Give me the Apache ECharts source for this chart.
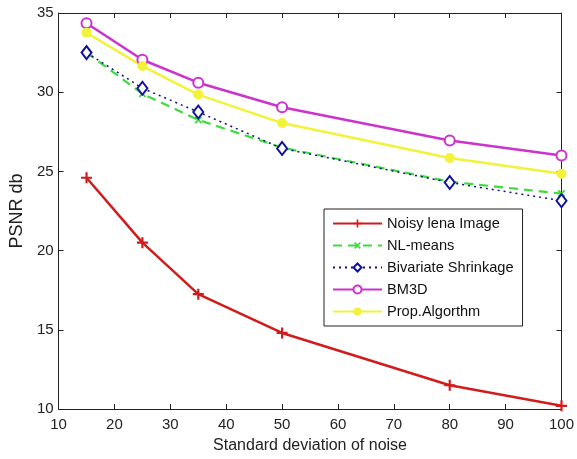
<!DOCTYPE html>
<html>
<head>
<meta charset="utf-8">
<script src="https://cdn.jsdelivr.net/npm/echarts@6/dist/echarts.min.js"></script>
<style>
html,body{margin:0;padding:0;background:#fff;}
#chart{width:577px;height:459px;}
</style>
</head>
<body>
<div id="chart"></div>
<script>
const noiseLevels = [15, 25, 35, 50, 80, 100];
const noisyLena = [24.6, 20.5, 17.25, 14.8, 11.5, 10.2];
const nlMeans = [32.5, 29.9, 28.25, 26.5, 24.35, 23.6];
const bivariate = [32.5, 30.25, 28.75, 26.45, 24.3, 23.15];
const bm3d = [34.35, 32.05, 30.6, 29.05, 26.95, 26.0];
const propAlg = [33.75, 31.65, 29.85, 28.05, 25.85, 24.85];
const seriesNames = ['Noisy lena Image', 'NL-means', 'Bivariate Shrinkage', 'BM3D', 'Prop.Algorthm'];
const xTicks = {min: 10, max: 100, step: 10};
const yTicks = {min: 10, max: 35, step: 5};

function pairs(ys) { return noiseLevels.map((x, i) => [x, ys[i]]); }

const FONT = '"Liberation Sans", Arial, sans-serif';
const axisCol = '#222';
const plusPath = 'path://M4,0H6V4H10V6H6V10H4V6H0V4H4Z';

const chart = echarts.init(document.getElementById('chart'), null, {renderer: 'canvas'});

const baseAxis = {
  axisLine: {show: true, lineStyle: {color: axisCol, width: 1}},
  axisTick: {show: true, inside: true, length: 5, lineStyle: {color: axisCol}},
  splitLine: {show: false},
  axisLabel: {color: axisCol, fontFamily: FONT, fontSize: 15}
};

chart.setOption({
  animation: false,
  backgroundColor: '#fff',
  grid: {left: 55, right: 13, top: 13, bottom: 46},
  xAxis: [
    Object.assign({}, baseAxis, {
      type: 'value', min: xTicks.min, max: xTicks.max, interval: xTicks.step,
      position: 'bottom',
      name: 'Standard deviation of noise', nameLocation: 'middle', nameGap: 29,
      nameTextStyle: {color: axisCol, fontFamily: FONT, fontSize: 16},
      axisLabel: {color: axisCol, fontFamily: FONT, fontSize: 15, margin: 8}
    }),
    Object.assign({}, baseAxis, {
      type: 'value', min: xTicks.min, max: xTicks.max, interval: xTicks.step,
      position: 'top', axisLabel: {show: false}
    })
  ],
  yAxis: [
    Object.assign({}, baseAxis, {
      type: 'value', min: yTicks.min, max: yTicks.max, interval: yTicks.step,
      position: 'left',
      name: 'PSNR db', nameLocation: 'middle', nameGap: 29,
      nameTextStyle: {color: axisCol, fontFamily: FONT, fontSize: 18},
      axisLabel: {color: axisCol, fontFamily: FONT, fontSize: 15, margin: 5}
    }),
    Object.assign({}, baseAxis, {
      type: 'value', min: yTicks.min, max: yTicks.max, interval: yTicks.step,
      position: 'right', axisLabel: {show: false}
    })
  ],
  legend: {
    orient: 'vertical',
    left: 324, top: 209,
    padding: [7, 9, 7, 8],
    itemWidth: 49, itemHeight: 10, itemGap: 7,
    borderColor: '#222', borderWidth: 1, backgroundColor: '#fff',
    textStyle: {color: '#111', fontFamily: FONT, fontSize: 14.6},
    data: seriesNames
  },
  series: [
    {
      name: seriesNames[0], type: 'line', data: pairs(noisyLena),
      symbol: plusPath, symbolSize: 11,
      lineStyle: {color: '#d01c1c', width: 2.5},
      itemStyle: {color: '#d01c1c'}
    },
    {
      name: seriesNames[1], type: 'line', data: pairs(nlMeans),
      symbol: plusPath, symbolSize: 9, symbolRotate: 45,
      lineStyle: {color: '#3ddc3d', width: 2.2, type: [9, 6]},
      itemStyle: {color: '#3ddc3d'}
    },
    {
      name: seriesNames[2], type: 'line', data: pairs(bivariate),
      symbol: 'emptyDiamond', symbolSize: [10, 13],
      lineStyle: {color: '#101080', width: 1.5, type: [2, 4]},
      itemStyle: {color: '#1010a0', borderWidth: 2.5, borderColor: '#1010a0'}
    },
    {
      name: seriesNames[3], type: 'line', data: pairs(bm3d),
      symbol: 'emptyCircle', symbolSize: 10,
      lineStyle: {color: '#cc33cc', width: 2.5},
      itemStyle: {color: '#cc33cc', borderWidth: 2, borderColor: '#cc33cc'}
    },
    {
      name: seriesNames[4], type: 'line', data: pairs(propAlg),
      symbol: 'circle', symbolSize: 10,
      lineStyle: {color: '#f2f23a', width: 2.5},
      itemStyle: {color: '#f2f23a'}
    }
  ]
});
</script>
</body>
</html>
